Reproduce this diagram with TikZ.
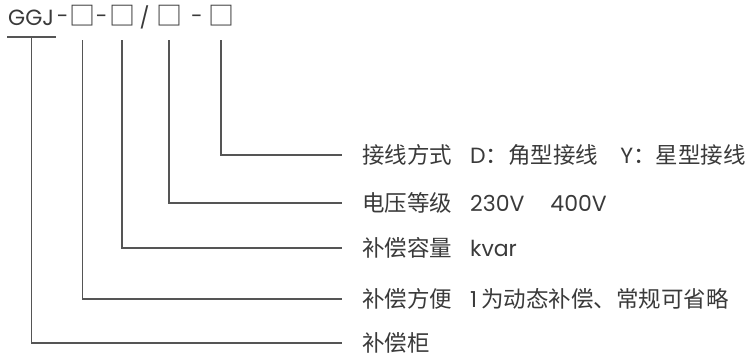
\documentclass[tikz,border=0pt]{standalone}
\usepackage{fontspec}
\setmainfont{Poppins}
\newfontfamily\cjk{Noto Sans CJK SC}
\definecolor{txt}{HTML}{3A3A3A}
\definecolor{ln}{HTML}{555555}
\newcommand{\zh}[1]{{\cjk\fontsize{22.5}{26}\selectfont #1}}
\newcommand{\ttlf}{\fontspec{Poppins}\fontsize{21}{24}\selectfont}
\newcommand{\hy}{\raisebox{2pt}{\ttlf-}}
\begin{document}
\begin{tikzpicture}[x=1pt,y=-1pt,
  lbl/.style={anchor=west,inner sep=0pt,text=txt,font=\fontsize{22}{26}\selectfont},
  ttl/.style={anchor=base,inner sep=0pt,text=txt,font=\ttlf},
  sq/.style={anchor=base,inner sep=0pt,text=txt,font=\cjk\fontsize{26}{30}\selectfont},
  conn/.style={draw=ln,line width=1.1pt}]
\useasboundingbox (0,0) rectangle (748,360);
% title
\node[ttl,anchor=base west,font=\fontsize{22}{26}\selectfont] (ggj) at (8,25) {GGJ};
\node[sq] (s1) at (82.5,25.5) {\llap{\hy\hspace{1pt}}□\rlap{\hspace{0.3pt}\hy}};
\node[sq] (s2) at (122,25.5) {□};
\node[ttl] (sl) at (144.5,25) {/};
\node[sq] (s3) at (169,25.5) {□};
\node[ttl] (d3) at (197,23) {-};
\node[sq] (s4) at (221,25.5) {□};
% labels
\node[lbl] (l1) at (362,155) {\zh{接线方式}\hspace{18pt}D\zh{：角型接线}\hspace{22pt}Y\zh{：星型接线}};
\node[lbl] (l2) at (362,203) {\zh{电压等级}\hspace{18pt}230V\hspace{26pt}400V};
\node[lbl] (l3) at (362,248) {\zh{补偿容量}\hspace{18pt}kvar};
\node[lbl] (l4) at (362,299) {\zh{补偿方便}\hspace{18pt}1\hspace{4pt}\zh{为动态补偿、常规可省略}};
\node[lbl] (l5) at (362,343) {\zh{补偿柜}};
% connectors
\coordinate (top) at (0,40);
\coordinate (ula) at (7,37);
\coordinate (ulb) at (56,37);
\draw[conn] (ula) -- (ulb);
\draw[conn] (ggj.center |- ula) |- ([xshift=-20pt]l5.west);
\draw[conn] (s1 |- top) |- ([xshift=-20pt]l4.west);
\draw[conn] (s2 |- top) |- ([xshift=-20pt]l3.west);
\draw[conn] (s3 |- top) |- ([xshift=-20pt]l2.west);
\draw[conn] (s4 |- top) |- ([xshift=-20pt]l1.west);
\end{tikzpicture}
\end{document}
